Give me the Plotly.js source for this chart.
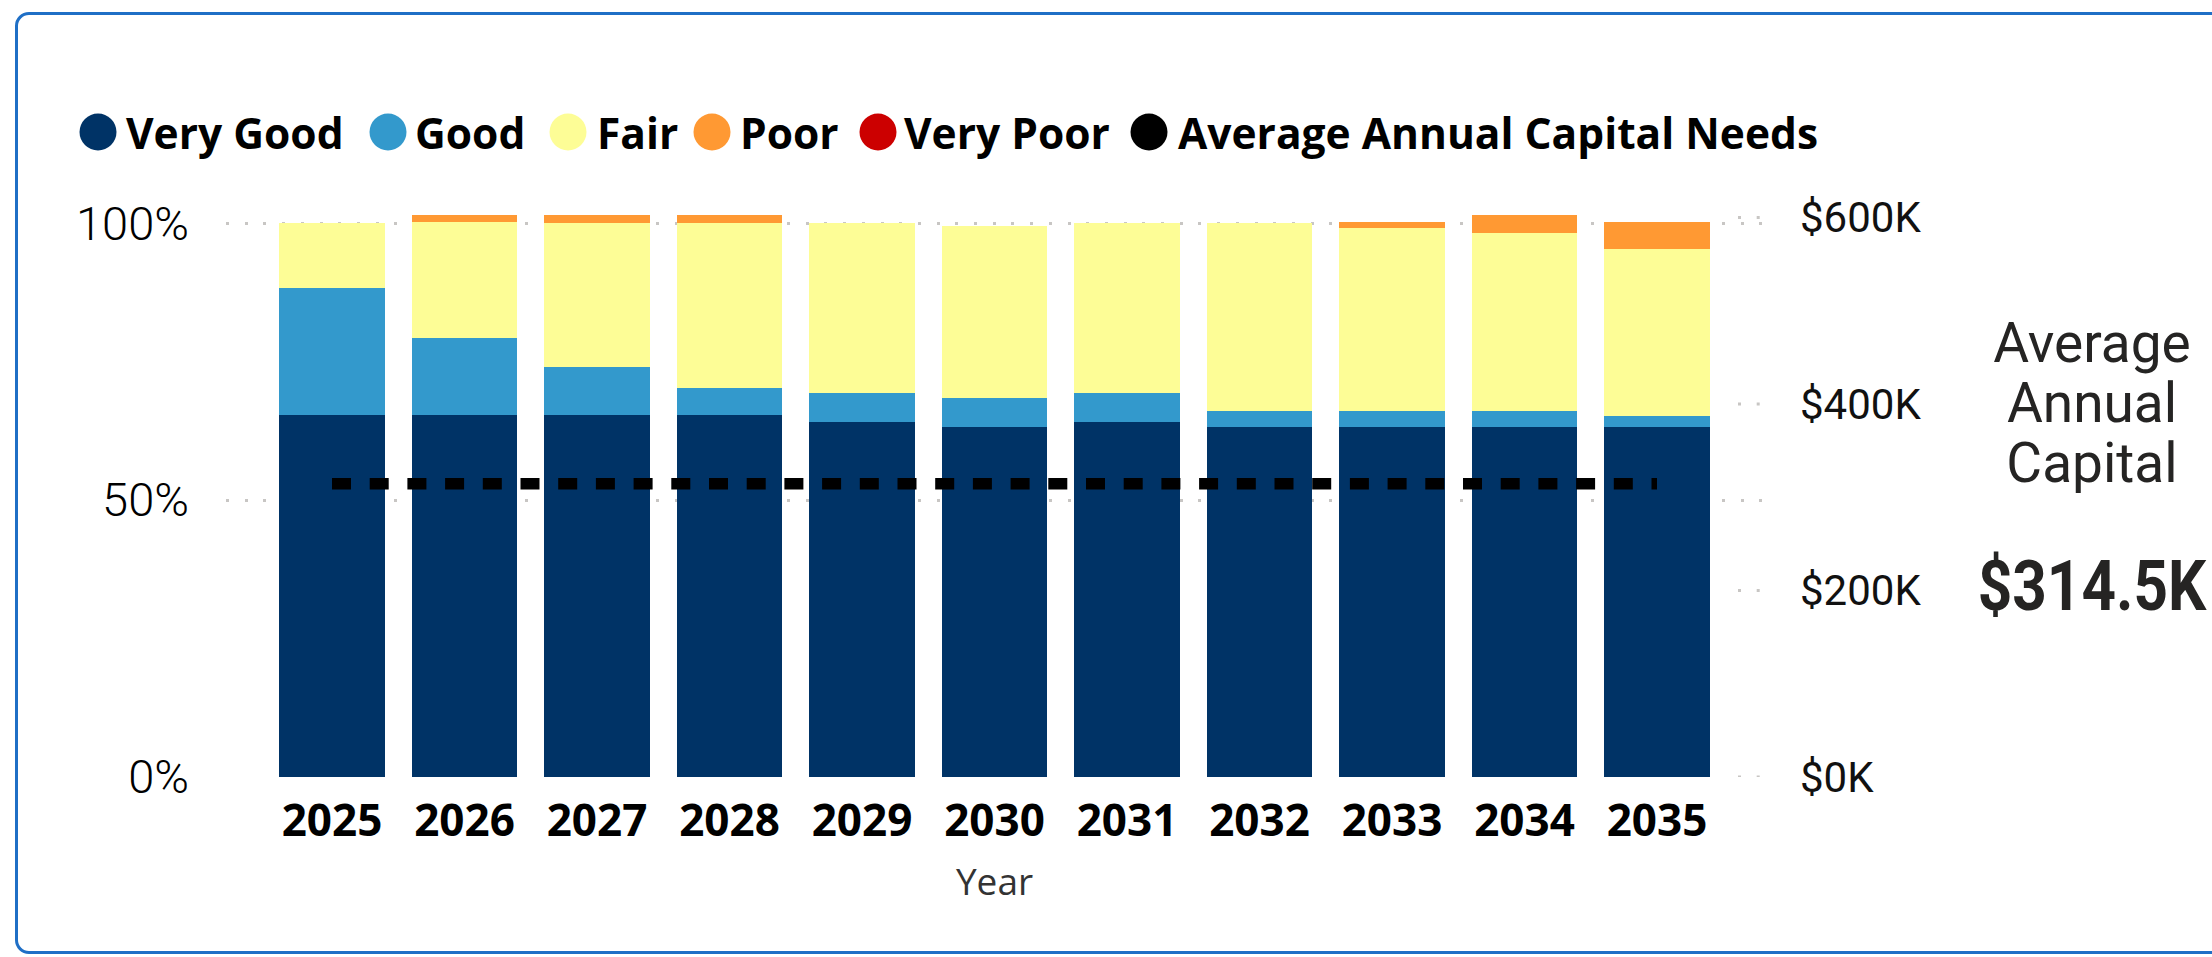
<!DOCTYPE html>
<html><head><meta charset="utf-8">
<script src="https://cdn.plot.ly/plotly-3.0.1.min.js"></script>
<style>
html,body{margin:0;padding:0;width:2212px;height:957px;overflow:hidden;background:#fff;}
#frame{position:absolute;left:15px;top:12px;width:2300px;height:942px;border:3.5px solid #1F6FC6;border-radius:14px;box-sizing:border-box;}
#chart{position:absolute;left:0;top:0;width:2212px;height:957px;}
.card{position:absolute;font-family:Roboto,sans-serif;color:#252423;text-align:center;white-space:nowrap;}
</style></head><body>
<div id="frame"></div>
<div id="chart"></div>
<div class="card" style="left:1967px;top:313px;width:250px;font-size:55px;line-height:60px;">Average<br>Annual<br>Capital</div>
<div class="card" style="left:1942px;top:545px;width:300px;font-size:70px;line-height:82px;font-weight:700;transform:scaleX(0.86);">$314.5K</div>
<script>
// ---- data ----
const years = ['2025','2026','2027','2028','2029','2030','2031','2032','2033','2034','2035'];
const veryGood = [0.653,0.653,0.653,0.653,0.641,0.632,0.641,0.632,0.632,0.632,0.631];
const good     = [0.229,0.139,0.088,0.049,0.052,0.052,0.052,0.029,0.029,0.029,0.021];
const fair     = [0.118,0.210,0.260,0.299,0.308,0.310,0.308,0.340,0.331,0.322,0.301];
const poor     = [0.000,0.012,0.013,0.013,0.000,0.000,0.000,0.000,0.010,0.031,0.049];
const veryPoor = [0,0,0,0,0,0,0,0,0,0,0];
const avgNeeds = [314500,314500,314500,314500,314500,314500,314500,314500,314500,314500,314500];
const leftTickVals = [0, 0.5, 1];
const leftTickText = ['0%','50%','100%'];
const rightTickVals = [0, 200000, 400000, 600000];
const rightTickText = ['$0K','$200K','$400K','$600K'];
const legendNames = ['Very Good','Good','Fair','Poor','Very Poor','Average Annual Capital Needs'];

// ---- styles ----
const colors = {veryGood:'#003366', good:'#3399CC', fair:'#FDFD96', poor:'#FF9933', veryPoor:'#CC0000', avg:'#000000'};
const legendColors = [colors.veryGood, colors.good, colors.fair, colors.poor, colors.veryPoor, colors.avg];
const W = 2212, H = 957;
const ML = 226, MR = 449, MT = 212, MB = 180;
const PW = W - ML - MR, PH = H - MT - MB;
const px2x = px => (px - ML) / PW;
const px2y = py => (H - MB - py) / PH;
const legendDotX = [98, 388, 568, 712, 878, 1149];
const legendTextX = [124, 413, 595, 738, 902, 1176];
const legendY = 132;
const gridColor = '#C8C6C4';
const gridDash = '3px,15.7px';

function barTrace(name, vals, color) {
  return {type:'bar', name:name, x:years, y:vals, marker:{color:color, line:{width:0}}, showlegend:false, hoverinfo:'skip'};
}
const traces = [
  barTrace('Very Good', veryGood, colors.veryGood),
  barTrace('Good', good, colors.good),
  barTrace('Fair', fair, colors.fair),
  barTrace('Poor', poor, colors.poor),
  barTrace('Very Poor', veryPoor, colors.veryPoor),
  {type:'scatter', mode:'lines', name:'Average Annual Capital Needs', x:years, y:avgNeeds, yaxis:'y2',
   line:{color:colors.avg, width:11.5, dash:'19px,18.7px'}, showlegend:false, hoverinfo:'skip'}
];

const shapes = [];
const annotations = [];
legendNames.forEach((n, i) => {
  shapes.push({type:'circle', xref:'paper', yref:'paper', xsizemode:'pixel', ysizemode:'pixel',
    xanchor:px2x(legendDotX[i]), yanchor:px2y(legendY), x0:-18.5, x1:18.5, y0:-18.5, y1:18.5,
    fillcolor:legendColors[i], line:{width:0}});
  annotations.push({xref:'paper', yref:'paper', x:px2x(legendTextX[i]), y:px2y(legendY), xanchor:'left', yanchor:'middle',
    text:n, showarrow:false, font:{family:'Open Sans', size:42.5, weight:700, color:'#000'}});
});
// right-axis grid stubs (only drawn in the right padding in the reference)
rightTickVals.forEach(v => {
  shapes.push({type:'line', xref:'paper', yref:'y2', x0:px2x(1738), x1:1, y0:v, y1:v,
    line:{color:gridColor, width:3, dash:gridDash}, layer:'below'});
});

const layout = {
  width:W, height:H, margin:{l:ML, r:MR, t:MT, b:MB, pad:0},
  paper_bgcolor:'rgba(0,0,0,0)', plot_bgcolor:'rgba(0,0,0,0)',
  barmode:'stack', bargap:0.207, showlegend:false,
  xaxis:{type:'category', range:[-0.8, 10.8], showgrid:false, zeroline:false, showline:false, ticks:'',
    ticklabelstandoff:14,
    tickfont:{family:'Open Sans', size:44, weight:700, color:'#000'},
    title:{text:'Year', font:{family:'Open Sans', size:37, color:'#333'}, standoff:21}},
  yaxis:{range:[0, 1.02], tickvals:leftTickVals, ticktext:leftTickText, showgrid:true, gridcolor:gridColor, gridwidth:3,
    griddash:gridDash, zeroline:false, showline:false, ticks:'', ticklabelstandoff:36,
    tickfont:{family:'Roboto', size:47, weight:300, color:'#000'}},
  yaxis2:{overlaying:'y', side:'right', range:[0, 605900], tickvals:rightTickVals, ticktext:rightTickText,
    showgrid:false, zeroline:false, showline:false, ticks:'', ticklabelstandoff:36,
    tickfont:{family:'Roboto', size:42, color:'#111'}},
  shapes:shapes, annotations:annotations
};
Plotly.newPlot('chart', traces, layout, {displayModeBar:false, staticPlot:true});
</script>
</body></html>
